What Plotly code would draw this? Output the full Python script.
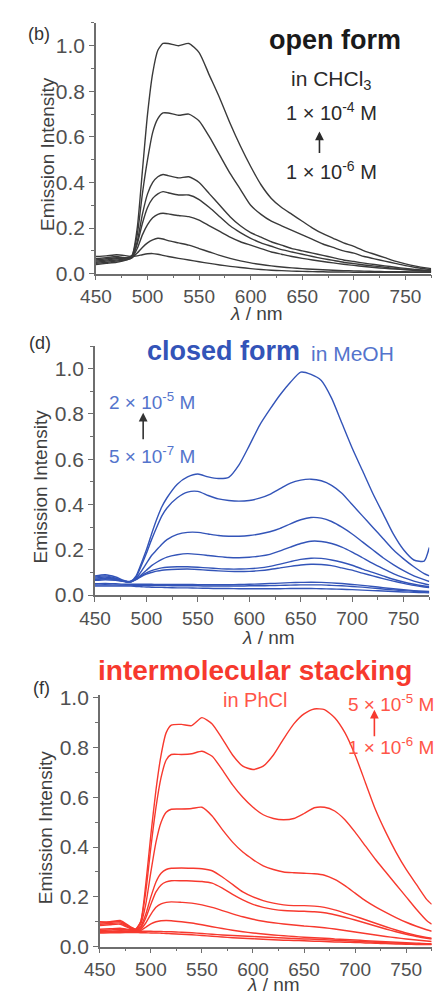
import plotly.graph_objects as go

W = 437
H = 1005

# Wavelength grid (nm) shared by all spectra
WL = [450, 460, 470, 480, 485, 490, 495, 500, 505, 510, 515, 520, 530, 540, 550,
      560, 570, 580, 590, 600, 610, 620, 630, 640, 650, 660, 670, 680, 690, 700,
      710, 720, 730, 740, 750, 760, 770, 775]

# (b) open form in CHCl3, 1e-4 M (top) ... 1e-6 M (bottom)
OPEN_1 = [0.065, 0.07, 0.075, 0.07, 0.08, 0.2, 0.45, 0.7, 0.88, 0.98, 1.01, 1.01, 1.0, 1.01, 0.97,
          0.87, 0.77, 0.66, 0.56, 0.47, 0.39, 0.33, 0.29, 0.26, 0.23, 0.2, 0.175, 0.155, 0.135, 0.12,
          0.1, 0.085, 0.07, 0.055, 0.043, 0.033, 0.025, 0.022]
OPEN_2 = [0.06, 0.065, 0.07, 0.07, 0.08, 0.17, 0.35, 0.5, 0.62, 0.68, 0.705, 0.705, 0.695, 0.7, 0.67,
          0.6, 0.52, 0.44, 0.37, 0.3, 0.26, 0.23, 0.21, 0.19, 0.17, 0.15, 0.13, 0.115, 0.1, 0.09,
          0.075, 0.065, 0.055, 0.045, 0.035, 0.027, 0.02, 0.018]
OPEN_3 = [0.055, 0.06, 0.065, 0.068, 0.075, 0.14, 0.26, 0.35, 0.4, 0.425, 0.435, 0.43, 0.42, 0.425, 0.4,
          0.35, 0.3, 0.25, 0.21, 0.18, 0.16, 0.14, 0.125, 0.11, 0.1, 0.09, 0.08, 0.07, 0.06, 0.053,
          0.046, 0.04, 0.034, 0.028, 0.023, 0.018, 0.015, 0.013]
OPEN_4 = [0.05, 0.055, 0.06, 0.065, 0.072, 0.13, 0.22, 0.29, 0.33, 0.35, 0.36, 0.355, 0.345, 0.345, 0.325,
          0.29, 0.25, 0.21, 0.18, 0.155, 0.135, 0.12, 0.105, 0.095, 0.085, 0.075, 0.066, 0.058, 0.05, 0.044,
          0.038, 0.033, 0.028, 0.023, 0.019, 0.015, 0.012, 0.011]
OPEN_5 = [0.045, 0.05, 0.055, 0.062, 0.07, 0.11, 0.17, 0.215, 0.245, 0.26, 0.265, 0.262, 0.255, 0.25, 0.235,
          0.21, 0.185, 0.16, 0.14, 0.125, 0.11, 0.095, 0.085, 0.075, 0.067, 0.06, 0.053, 0.047, 0.041, 0.036,
          0.031, 0.027, 0.023, 0.02, 0.017, 0.014, 0.011, 0.01]
OPEN_6 = [0.04, 0.045, 0.05, 0.06, 0.07, 0.09, 0.115, 0.135, 0.148, 0.155, 0.152, 0.145, 0.135, 0.125, 0.11,
          0.095, 0.08, 0.067, 0.056, 0.047, 0.04, 0.034, 0.029, 0.025, 0.022, 0.019, 0.017, 0.015, 0.013, 0.012,
          0.011, 0.01, 0.009, 0.008, 0.008, 0.007, 0.007, 0.007]
OPEN_7 = [0.075, 0.078, 0.083, 0.078, 0.075, 0.078, 0.083, 0.087, 0.088, 0.085, 0.08, 0.075, 0.067, 0.06, 0.052,
          0.045, 0.038, 0.032, 0.027, 0.022, 0.018, 0.015, 0.013, 0.011, 0.01, 0.009, 0.008, 0.007, 0.007, 0.006,
          0.006, 0.006, 0.006, 0.006, 0.006, 0.006, 0.006, 0.006]

# (d) closed form in MeOH, 2e-5 M (top) ... 5e-7 M (bottom)
CLOSED_1 = [0.085, 0.09, 0.08, 0.062, 0.062, 0.085, 0.14, 0.2, 0.27, 0.335, 0.39, 0.43, 0.49, 0.522, 0.535,
            0.522, 0.515, 0.52, 0.575, 0.66, 0.75, 0.82, 0.885, 0.94, 0.985, 0.975, 0.948, 0.87, 0.76, 0.65,
            0.55, 0.45, 0.36, 0.27, 0.2, 0.155, 0.15, 0.21]
CLOSED_2 = [0.08, 0.085, 0.075, 0.06, 0.06, 0.08, 0.13, 0.185, 0.245, 0.3, 0.35, 0.385, 0.43, 0.455, 0.458,
            0.44, 0.425, 0.418, 0.415, 0.418, 0.428, 0.445, 0.47, 0.495, 0.508, 0.512, 0.505, 0.485, 0.45, 0.4,
            0.35, 0.3, 0.25, 0.2, 0.16, 0.125, 0.095, 0.085]
CLOSED_3 = [0.075, 0.08, 0.072, 0.06, 0.06, 0.075, 0.105, 0.14, 0.175, 0.2, 0.225, 0.245, 0.268, 0.277, 0.277,
            0.27, 0.263, 0.26, 0.26, 0.263, 0.27, 0.28, 0.295, 0.315, 0.333, 0.343, 0.34, 0.325, 0.3, 0.27,
            0.235, 0.2, 0.165, 0.135, 0.108, 0.085, 0.068, 0.06]
CLOSED_4 = [0.07, 0.075, 0.07, 0.06, 0.06, 0.07, 0.09, 0.11, 0.13, 0.145, 0.158, 0.168, 0.178, 0.183, 0.18,
            0.175, 0.17, 0.166, 0.165, 0.167, 0.172, 0.18, 0.195, 0.212, 0.228, 0.238, 0.237, 0.228, 0.212, 0.19,
            0.165, 0.14, 0.117, 0.095, 0.077, 0.062, 0.05, 0.045]
CLOSED_5 = [0.068, 0.072, 0.068, 0.06, 0.06, 0.07, 0.085, 0.098, 0.108, 0.115, 0.12, 0.123, 0.125, 0.125, 0.123,
            0.12, 0.117, 0.115, 0.115, 0.117, 0.12, 0.127, 0.137, 0.148, 0.158, 0.163, 0.162, 0.155, 0.145, 0.132,
            0.115, 0.1, 0.085, 0.07, 0.058, 0.048, 0.04, 0.037]
CLOSED_6 = [0.065, 0.068, 0.065, 0.058, 0.058, 0.068, 0.082, 0.093, 0.1, 0.106, 0.11, 0.112, 0.114, 0.115, 0.113,
            0.11, 0.107, 0.105, 0.104, 0.105, 0.108, 0.113, 0.12, 0.127, 0.133, 0.136, 0.135, 0.13, 0.12, 0.11,
            0.097, 0.085, 0.073, 0.062, 0.052, 0.043, 0.036, 0.033]
CLOSED_7 = [0.05, 0.052, 0.05, 0.048, 0.048, 0.048, 0.048, 0.048, 0.048, 0.047, 0.047, 0.047, 0.047, 0.047, 0.046,
            0.046, 0.046, 0.046, 0.047, 0.048, 0.049, 0.051, 0.053, 0.055, 0.056, 0.057, 0.056, 0.054, 0.051, 0.047,
            0.043, 0.038, 0.033, 0.028, 0.024, 0.02, 0.017, 0.016]
CLOSED_8 = [0.045, 0.046, 0.045, 0.044, 0.044, 0.043, 0.043, 0.043, 0.042, 0.042, 0.042, 0.042, 0.041, 0.041, 0.041,
            0.04, 0.04, 0.04, 0.04, 0.041, 0.041, 0.042, 0.043, 0.044, 0.045, 0.045, 0.045, 0.043, 0.041, 0.038,
            0.035, 0.031, 0.027, 0.023, 0.02, 0.017, 0.014, 0.013]
CLOSED_9 = [0.04, 0.04, 0.04, 0.04, 0.04, 0.038, 0.037, 0.036, 0.035, 0.034, 0.034, 0.033, 0.032, 0.032, 0.031,
            0.03, 0.029, 0.029, 0.028, 0.028, 0.028, 0.028, 0.028, 0.029, 0.029, 0.029, 0.028, 0.027, 0.026, 0.024,
            0.022, 0.02, 0.018, 0.016, 0.014, 0.012, 0.011, 0.01]

# (f) intermolecular stacking in PhCl, 5e-5 M (top) ... 1e-6 M (bottom)
STACK_1 = [0.1, 0.1, 0.105, 0.08, 0.07, 0.1, 0.25, 0.45, 0.63, 0.77, 0.86, 0.89, 0.893, 0.888, 0.92,
           0.895, 0.835, 0.77, 0.725, 0.712, 0.725, 0.77, 0.835, 0.895, 0.935, 0.955, 0.952, 0.92, 0.86, 0.77,
           0.66, 0.55, 0.46, 0.38, 0.31, 0.25, 0.19, 0.17]
STACK_2 = [0.095, 0.098, 0.1, 0.078, 0.07, 0.1, 0.22, 0.4, 0.56, 0.68, 0.75, 0.772, 0.772, 0.775, 0.785,
           0.765, 0.71, 0.65, 0.6, 0.56, 0.53, 0.515, 0.51, 0.515, 0.535, 0.558, 0.56, 0.545, 0.51, 0.46,
           0.405, 0.35, 0.3, 0.25, 0.2, 0.15, 0.105, 0.09]
STACK_3 = [0.09, 0.093, 0.095, 0.075, 0.068, 0.09, 0.17, 0.3, 0.42, 0.5, 0.54, 0.552, 0.553, 0.555, 0.56,
           0.525, 0.47, 0.42, 0.38, 0.35, 0.325, 0.31, 0.3, 0.297, 0.295, 0.293, 0.287, 0.27, 0.245, 0.215,
           0.185, 0.16, 0.138, 0.117, 0.098, 0.082, 0.068, 0.062]
STACK_4 = [0.085, 0.088, 0.09, 0.072, 0.066, 0.08, 0.13, 0.2, 0.26, 0.295, 0.31, 0.315, 0.316, 0.315, 0.313,
           0.305, 0.28, 0.25, 0.22, 0.2, 0.185, 0.175, 0.168, 0.165, 0.165, 0.163, 0.158, 0.148, 0.135, 0.122,
           0.108, 0.094, 0.08, 0.067, 0.055, 0.045, 0.037, 0.034]
STACK_5 = [0.07, 0.072, 0.074, 0.068, 0.064, 0.075, 0.115, 0.17, 0.22, 0.248, 0.26, 0.265, 0.265, 0.264, 0.262,
           0.255, 0.235, 0.21, 0.188, 0.17, 0.158, 0.15, 0.145, 0.143, 0.142, 0.14, 0.136, 0.128, 0.118, 0.107,
           0.095, 0.083, 0.071, 0.06, 0.05, 0.041, 0.034, 0.031]
STACK_6 = [0.065, 0.067, 0.07, 0.066, 0.063, 0.07, 0.095, 0.13, 0.158, 0.172, 0.178, 0.18, 0.178, 0.175, 0.168,
           0.158, 0.145, 0.132, 0.12, 0.11, 0.102, 0.096, 0.091, 0.087, 0.083, 0.08, 0.076, 0.071, 0.065, 0.059,
           0.053, 0.047, 0.041, 0.036, 0.031, 0.027, 0.023, 0.021]
STACK_7 = [0.06, 0.062, 0.064, 0.063, 0.062, 0.065, 0.078, 0.092, 0.1, 0.104, 0.105, 0.104, 0.1, 0.095, 0.088,
           0.08, 0.073, 0.066, 0.06, 0.055, 0.051, 0.047, 0.044, 0.041, 0.038, 0.036, 0.034, 0.031, 0.029, 0.027,
           0.024, 0.022, 0.02, 0.018, 0.016, 0.014, 0.012, 0.012]
STACK_8 = [0.058, 0.06, 0.062, 0.062, 0.062, 0.062, 0.062, 0.062, 0.061, 0.061, 0.06, 0.06, 0.058, 0.056, 0.053,
           0.05, 0.047, 0.045, 0.043, 0.041, 0.039, 0.037, 0.035, 0.033, 0.031, 0.03, 0.028, 0.026, 0.024, 0.022,
           0.02, 0.018, 0.016, 0.014, 0.012, 0.011, 0.01, 0.01]
STACK_9 = [0.055, 0.056, 0.056, 0.057, 0.057, 0.056, 0.056, 0.055, 0.055, 0.054, 0.053, 0.052, 0.05, 0.048, 0.045,
           0.042, 0.039, 0.036, 0.034, 0.032, 0.03, 0.028, 0.026, 0.025, 0.024, 0.022, 0.021, 0.019, 0.018, 0.017,
           0.015, 0.014, 0.012, 0.011, 0.01, 0.009, 0.008, 0.008]

OPEN = [OPEN_1, OPEN_2, OPEN_3, OPEN_4, OPEN_5, OPEN_6, OPEN_7]
CLOSED = [CLOSED_1, CLOSED_2, CLOSED_3, CLOSED_4, CLOSED_5, CLOSED_6, CLOSED_7, CLOSED_8, CLOSED_9]
STACK = [STACK_1, STACK_2, STACK_3, STACK_4, STACK_5, STACK_6, STACK_7, STACK_8, STACK_9]

X_TICKS = [450, 500, 550, 600, 650, 700, 750]
Y_TICKS = [0.0, 0.2, 0.4, 0.6, 0.8, 1.0]

BLACK = "#3a3a3a"
BLUE = "#3354b8"
BLUE_LIGHT = "#5474cc"
RED = "#f7392e"
RED_LIGHT = "#ff5548"
FONT = "Liberation Sans, Arial, sans-serif"
AXIS_GREY = "#6e6e6e"
TICK_GREY = "#505050"
TITLE_GREY = "#3f3f3f"


def px(x):
    return x / W


def py(y):
    return 1 - y / H


fig = go.Figure()

panels = [
    (OPEN, BLACK, "x", "y"),
    (CLOSED, BLUE, "x2", "y2"),
    (STACK, RED, "x3", "y3"),
]
for series, color, xa, ya in panels:
    for vals in series:
        fig.add_trace(go.Scatter(
            x=WL, y=vals, mode="lines", xaxis=xa, yaxis=ya,
            line=dict(color=color, width=1.4, shape="spline", smoothing=0.6),
            showlegend=False, hoverinfo="skip",
        ))


def xaxis(domain, anchor):
    return dict(
        domain=domain, anchor=anchor, range=[450, 775],
        tickvals=X_TICKS, ticks="outside", ticklen=5, tickwidth=1.2, tickcolor=AXIS_GREY,
        minor=dict(dtick=25, tick0=450, ticks="outside", ticklen=3, tickcolor=AXIS_GREY, tickwidth=1),
        showline=True, linecolor=AXIS_GREY, linewidth=1.5,
        showgrid=False, zeroline=False, ticklabelstandoff=0,
        tickfont=dict(family=FONT, size=19, color=TICK_GREY),
    )


def yaxis(domain, anchor, top):
    return dict(
        domain=domain, anchor=anchor, range=[0, top],
        tickvals=Y_TICKS, ticktext=["%.1f" % v for v in Y_TICKS],
        ticks="outside", ticklen=5, tickwidth=1.2, tickcolor=AXIS_GREY,
        minor=dict(dtick=0.1, tick0=0, ticks="outside", ticklen=3, tickcolor=AXIS_GREY, tickwidth=1),
        showline=True, linecolor=AXIS_GREY, linewidth=1.5,
        showgrid=False, zeroline=False,
        tickfont=dict(family=FONT, size=21, color=TICK_GREY),
    )


fig.update_layout(
    width=W, height=H,
    margin=dict(l=0, r=0, t=0, b=0),
    paper_bgcolor="white", plot_bgcolor="white",
    showlegend=False,
    xaxis=xaxis([px(83), px(431)], "y"),
    yaxis=yaxis([py(270), py(14.25)], "x", 1.1),
    xaxis2=xaxis([px(82), px(429)], "y2"),
    yaxis2=yaxis([py(598), py(343.9)], "x2", 1.1),
    xaxis3=xaxis([px(87), px(431.5)], "y3"),
    yaxis3=yaxis([py(956.7), py(700.2)], "x3", 1.01),
)

annotations = []


def text(x, y, s, size, color, bold=False, xanchor="center", angle=0):
    if bold:
        s = "<b>%s</b>" % s
    annotations.append(dict(
        x=px(x), y=py(y), xref="paper", yref="paper", text=s, showarrow=False,
        xanchor=xanchor, yanchor="middle", textangle=angle,
        font=dict(family=FONT, size=size, color=color),
    ))


def arrow(x, y_tail, y_head, color):
    annotations.append(dict(
        x=px(x), y=py(y_head), xref="paper", yref="paper", text="",
        showarrow=True, axref="pixel", ayref="pixel", ax=0, ay=y_tail - y_head,
        arrowhead=2, arrowsize=1.1, arrowwidth=1.6, arrowcolor=color,
    ))


# axis titles
for xc, yc in [(32, 148), (25, 487), (31, 835)]:
    text(xc, yc, "Emission Intensity", 19, TITLE_GREY, angle=-90)
for xc, yc in [(250, 311), (262, 641), (267, 995)]:
    text(xc, yc, "<i>λ</i> / nm", 19, TITLE_GREY)

# panel (b)
text(24, 25, "(b)", 18, "#333333")
text(331, 32, "open form", 27, "#1a1a1a", bold=True)
text(328, 72, "in CHCl<sub>3</sub>", 21, "#2a2a2a")
text(328, 105, "1 × 10<sup>-4</sup> M", 20, "#2a2a2a")
arrow(315, 148, 125, "#2a2a2a")
text(328, 165, "1 × 10<sup>-6</sup> M", 20, "#2a2a2a")

# panel (d)
text(25, 341, "(d)", 18, "#333333")
text(297, 349, "closed form", 27, BLUE, bold=True, xanchor="right")
text(304, 351, "in MeOH", 21, BLUE_LIGHT, xanchor="left")
text(141, 400, "2 × 10<sup>-5</sup> M", 19, BLUE_LIGHT)
arrow(132, 440, 412, "#333333")
text(141, 455, "5 × 10<sup>-7</sup> M", 19, BLUE_LIGHT)

# panel (f)
text(26, 693, "(f)", 18, "#333333")
text(248, 675, "intermolecular stacking", 28, RED, bold=True)
text(248, 705, "in PhCl", 20, RED_LIGHT)
text(389, 708, "5 × 10<sup>-5</sup> M", 19, RED_LIGHT)
arrow(372, 743, 715, RED)
text(389, 752, "1 × 10<sup>-6</sup> M", 19, RED_LIGHT)

fig.update_layout(annotations=annotations)

fig.write_html("out.html")
